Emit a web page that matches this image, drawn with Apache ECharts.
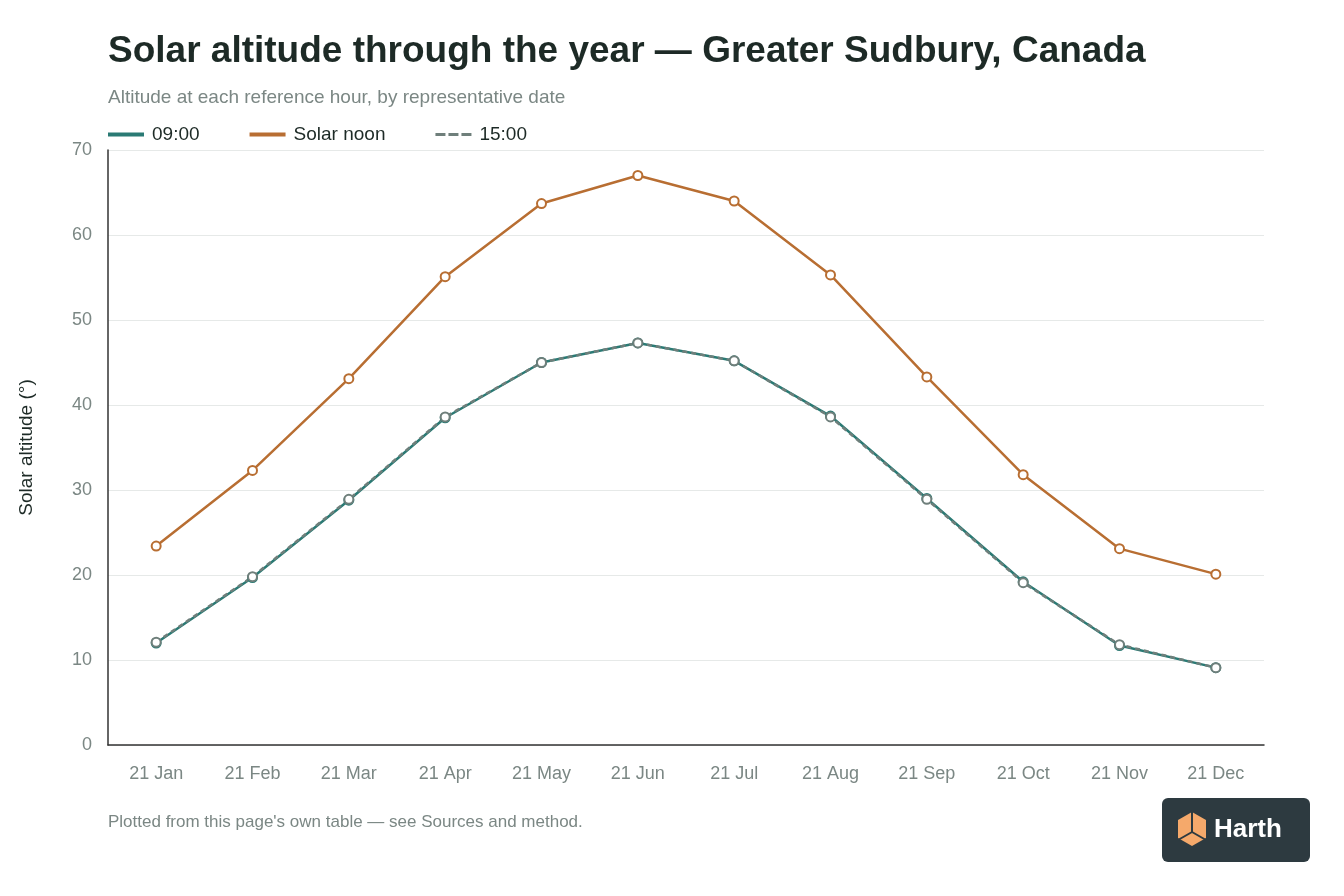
<!DOCTYPE html>
<html>
<head>
<meta charset="utf-8">
<script src="https://cdn.jsdelivr.net/npm/echarts@6/dist/echarts.min.js"></script>
<style>
  html, body { margin: 0; padding: 0; background: #fff; }
  #chart { width: 1344px; height: 896px; }
</style>
</head>
<body>
<div id="chart"></div>
<script>
var months = ['21 Jan', '21 Feb', '21 Mar', '21 Apr', '21 May', '21 Jun',
              '21 Jul', '21 Aug', '21 Sep', '21 Oct', '21 Nov', '21 Dec'];
var morning = [12.0, 19.7, 28.8, 38.5, 45.0, 47.3, 45.2, 38.7, 29.0, 19.2, 11.7, 9.1];
var noon = [23.4, 32.3, 43.1, 55.1, 63.7, 67.0, 64.0, 55.3, 43.3, 31.8, 23.1, 20.1];
var afternoon = [12.1, 19.8, 28.9, 38.6, 45.0, 47.3, 45.2, 38.6, 28.9, 19.1, 11.8, 9.1];

var font = 'Helvetica, "Liberation Sans", Arial, sans-serif';

function series(name, data, color, dashed) {
    return {
        name: name,
        type: 'line',
        data: data,
        symbol: 'circle',
        symbolSize: 9,
        lineStyle: { color: color, width: 2.5, type: dashed ? [5, 4] : 'solid' },
        itemStyle: { color: '#fff', borderColor: color, borderWidth: 2 },
        emphasis: { disabled: true }
    };
}

var chart = echarts.init(document.getElementById('chart'));
chart.setOption({
    animation: false,
    textStyle: { fontFamily: font },
    title: {
        text: 'Solar altitude through the year — Greater Sudbury, Canada',
        subtext: 'Altitude at each reference hour, by representative date',
        left: 103, top: 28,
        textStyle: { fontSize: 37, fontWeight: 'bold', color: '#1d2a26', fontFamily: font },
        subtextStyle: { fontSize: 19, color: '#7b8784', fontFamily: font },
        itemGap: 18
    },
    legend: {
        left: 103, top: 120,
        itemWidth: 34, itemHeight: 2, itemGap: 50,
        icon: 'rect',
        textStyle: { fontSize: 19, color: '#1d2a26', padding: [0, 0, 0, 4] },
        data: [
            { name: '09:00', itemStyle: { color: '#2a7a74' } },
            { name: 'Solar noon', itemStyle: { color: '#b86e32' } },
            { name: '15:00', icon: 'path://M0,0h8v1h-8zM13,0h8v1h-8zM26,0h8v1h-8z', itemStyle: { color: '#6f7f7b' } }
        ]
    },
    grid: { left: 108, right: 80, top: 150, bottom: 151 },
    xAxis: {
        type: 'category',
        data: months,
        boundaryGap: true,
        axisLine: { lineStyle: { color: '#333', width: 1.5 } },
        axisTick: { show: false },
        axisLabel: { fontSize: 18, color: '#7b8784', margin: 20 }
    },
    yAxis: {
        type: 'value',
        min: 0, max: 70, interval: 10,
        name: 'Solar altitude (°)',
        nameLocation: 'middle',
        nameGap: 72,
        nameTextStyle: { fontSize: 19, color: '#1d2a26' },
        axisLine: { show: true, lineStyle: { color: '#333', width: 1.5 } },
        axisLabel: { fontSize: 18, color: '#7b8784', margin: 16 },
        splitLine: { lineStyle: { color: '#e6e9e8' } }
    },
    series: [
        series('09:00', morning, '#2a7a74', false),
        series('Solar noon', noon, '#b86e32', false),
        series('15:00', afternoon, '#6f7f7b', true)
    ],
    graphic: [
        {
            type: 'text', left: 108, top: 814,
            style: { text: "Plotted from this page's own table — see Sources and method.", fontSize: 17, fill: '#7b8784', fontFamily: font }
        },
        {
            type: 'group', left: 1162, top: 798,
            children: [
                { type: 'rect', shape: { x: 0, y: 0, width: 148, height: 64, r: 6 }, style: { fill: '#2d3a40' } },
                { type: 'polygon', shape: { points: [[16, 22], [30, 14], [44, 22], [44, 40], [30, 48], [16, 40]] }, style: { fill: '#f5a96b' } },
                { type: 'polyline', shape: { points: [[30, 14], [30, 34], [16, 42]] }, style: { stroke: '#2d3a40', lineWidth: 2, fill: null } },
                { type: 'polyline', shape: { points: [[30, 34], [44, 42]] }, style: { stroke: '#2d3a40', lineWidth: 2, fill: null } },
                { type: 'text', x: 52, y: 19, style: { text: 'Harth', fontSize: 26, fontWeight: 'bold', fill: '#ffffff', fontFamily: font } }
            ]
        }
    ]
});
</script>
</body>
</html>
